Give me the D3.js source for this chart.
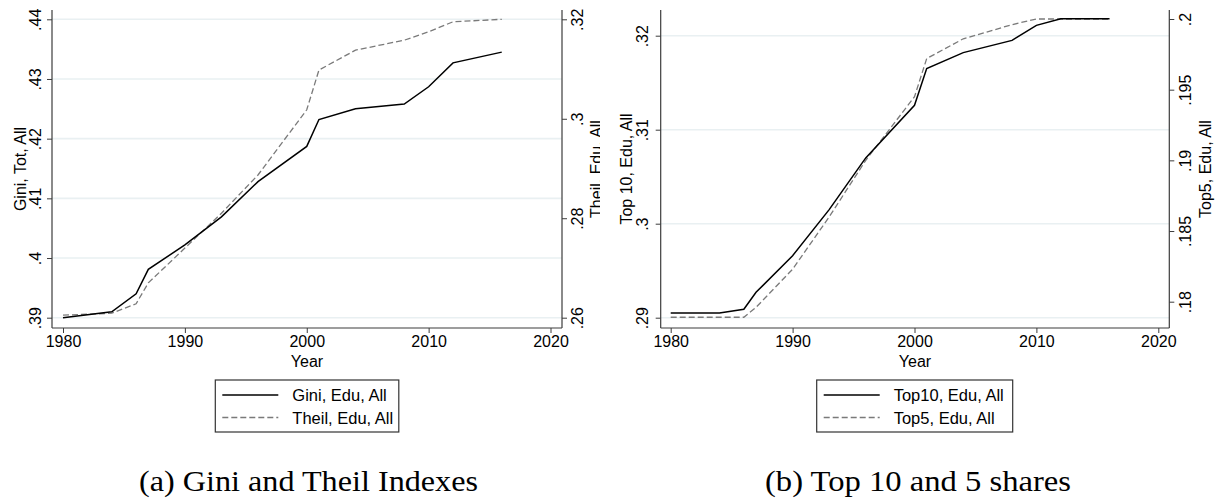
<!DOCTYPE html>
<html>
<head>
<meta charset="utf-8">
<script src="https://cdn.jsdelivr.net/npm/d3@7"></script>
<style>
  html, body { margin: 0; padding: 0; background: #fff; }
  svg { display: block; }
  text { font-family: "Liberation Sans", Arial, sans-serif; fill: #000; }
</style>
</head>
<body>
<svg id="chart" width="1216" height="499"></svg>
<script>
// ---- Data ----
const years = [1980, 1984, 1986, 1987, 1990, 1993, 1996, 2000, 2001, 2004, 2008, 2010, 2012, 2016];
const gini  = [0.3900, 0.3910, 0.3940, 0.3981, 0.4022, 0.4069, 0.4128, 0.4187, 0.4232, 0.4250, 0.4258, 0.4287, 0.4327, 0.4345];
const theil = [0.2605, 0.2609, 0.2628, 0.2670, 0.2740, 0.2810, 0.2887, 0.3018, 0.3098, 0.3138, 0.3158, 0.3175, 0.3195, 0.3200];
const top10 = [0.2905, 0.2905, 0.2909, 0.2927, 0.2966, 0.3015, 0.3070, 0.3126, 0.3165, 0.3182, 0.3195, 0.3211, 0.3218, 0.3218];
const top5  = [0.1789, 0.1789, 0.1789, 0.1796, 0.1823, 0.1860, 0.1900, 0.1945, 0.1972, 0.1986, 0.1996, 0.2000, 0.2000, 0.2000];

const xTicks = [1980, 1990, 2000, 2010, 2020];
const giniTicks  = [0.39, 0.40, 0.41, 0.42, 0.43, 0.44];
const giniLabels = [".39", ".4", ".41", ".42", ".43", ".44"];
const theilTicks  = [0.26, 0.28, 0.30, 0.32];
const theilLabels = [".26", ".28", ".3", ".32"];
const top10Ticks  = [0.29, 0.30, 0.31, 0.32];
const top10Labels = [".29", ".3", ".31", ".32"];
const top5Ticks  = [0.18, 0.185, 0.19, 0.195, 0.20];
const top5Labels = [".18", ".185", ".19", ".195", ".2"];

const panels = [
  {
    left: 52, right: 562, x0: 63, x1: 550.5,
    yL: { domain: [0.39, 0.44], range: [317.7, 19.3], ticks: giniTicks, labels: giniLabels, title: "Gini, Tot, All", lab: 16.5, tit: 32 },
    yR: { domain: [0.26, 0.32], range: [317.7, 19.3], ticks: theilTicks, labels: theilLabels, title: "Theil, Edu, All", lab: 15, tit: 34 },
    s1: gini, s2: theil,
    legend: { x: 215.3, w: 183.5, n1: "Gini, Edu, All", n2: "Theil, Edu, All" },
    caption: { text: "(a) Gini and Theil Indexes", cx: 308.5, w: 339 },
    clipRight: 600
  },
  {
    left: 660.7, right: 1169.3, x0: 670.7, x1: 1158.3,
    yL: { domain: [0.29, 0.32], range: [317.7, 35.7], ticks: top10Ticks, labels: top10Labels, title: "Top 10, Edu, All", lab: 18.5, tit: 34 },
    yR: { domain: [0.18, 0.20], range: [301.7, 19], ticks: top5Ticks, labels: top5Labels, title: "Top5, Edu, All", lab: 16.5, tit: 36.5 },
    s1: top10, s2: top5,
    legend: { x: 816.7, w: 196, n1: "Top10, Edu, All", n2: "Top5, Edu, All" },
    caption: { text: "(b) Top 10 and 5 shares", cx: 918, w: 306 },
    clipRight: 1216
  }
];

const TOP = 10, BOTTOM = 328;
const axisColor = "#3c3c3c";
const gridColor = "#e9f0f2";
const fs = 16;
const legFs = 16.5;

const svg = d3.select("#chart");
const defs = svg.append("defs");

panels.forEach((p, pi) => {
  const g = svg.append("g");
  const x = d3.scaleLinear().domain([1980, 2020]).range([p.x0, p.x1]);
  const yL = d3.scaleLinear().domain(p.yL.domain).range(p.yL.range);
  const yR = d3.scaleLinear().domain(p.yR.domain).range(p.yR.range);

  // gridlines at left ticks
  g.append("g").selectAll("line").data(p.yL.ticks).join("line")
    .attr("x1", p.left).attr("x2", p.right)
    .attr("y1", d => yL(d)).attr("y2", d => yL(d))
    .attr("stroke", gridColor).attr("stroke-width", 1.6);

  // x axis
  const xAxis = d3.axisBottom(x).tickValues(xTicks).tickFormat(d3.format("d")).tickSize(5).tickPadding(3);
  const gx = g.append("g").attr("transform", `translate(0,${BOTTOM})`).call(xAxis);
  gx.select(".domain").remove();
  gx.selectAll(".tick line").attr("stroke", axisColor).attr("stroke-width", 1);
  gx.selectAll(".tick text").attr("font-size", fs).attr("fill", "#000")
    .attr("font-family", "Liberation Sans, Arial, sans-serif");

  // left axis
  const la = d3.axisLeft(yL).tickValues(p.yL.ticks).tickFormat((d, i) => p.yL.labels[i]).tickSize(5);
  const gl = g.append("g").attr("transform", `translate(${p.left},0)`).call(la);
  gl.select(".domain").remove();
  gl.selectAll(".tick line").attr("stroke", axisColor).attr("stroke-width", 1);
  gl.selectAll(".tick text").attr("font-size", fs).attr("fill", "#000")
    .attr("font-family", "Liberation Sans, Arial, sans-serif")
    .attr("x", 0).attr("dy", null).attr("text-anchor", "middle")
    .attr("dominant-baseline", "central")
    .attr("transform", `translate(${-p.yL.lab},0) rotate(-90)`);

  // right axis
  const ra = d3.axisRight(yR).tickValues(p.yR.ticks).tickFormat((d, i) => p.yR.labels[i]).tickSize(5);
  const gr = g.append("g").attr("transform", `translate(${p.right},0)`).call(ra);
  gr.select(".domain").remove();
  gr.selectAll(".tick line").attr("stroke", axisColor).attr("stroke-width", 1);
  gr.selectAll(".tick text").attr("font-size", fs).attr("fill", "#000")
    .attr("font-family", "Liberation Sans, Arial, sans-serif")
    .attr("x", 0).attr("dy", null).attr("text-anchor", "middle")
    .attr("dominant-baseline", "central")
    .attr("transform", `translate(${p.yR.lab},0) rotate(-90)`);

  // axis lines
  g.append("line").attr("x1", p.left).attr("x2", p.left).attr("y1", TOP).attr("y2", BOTTOM)
    .attr("stroke", axisColor).attr("stroke-width", 1.2);
  g.append("line").attr("x1", p.right).attr("x2", p.right).attr("y1", TOP).attr("y2", BOTTOM)
    .attr("stroke", axisColor).attr("stroke-width", 1.2);
  g.append("line").attr("x1", p.left).attr("x2", p.right).attr("y1", BOTTOM).attr("y2", BOTTOM)
    .attr("stroke", axisColor).attr("stroke-width", 1.2);

  // axis titles
  const midY = (TOP + BOTTOM) / 2;
  g.append("text").attr("text-anchor", "middle").attr("dominant-baseline", "central")
    .attr("font-size", fs)
    .attr("transform", `translate(${p.left - p.yL.tit},${midY}) rotate(-90)`)
    .text(p.yL.title);

  const clipId = "clipR" + pi;
  defs.append("clipPath").attr("id", clipId).append("rect")
    .attr("x", 0).attr("y", 0).attr("width", p.clipRight).attr("height", 499);
  g.append("g").attr("clip-path", `url(#${clipId})`)
    .append("text").attr("text-anchor", "middle").attr("dominant-baseline", "central")
    .attr("font-size", fs)
    .attr("transform", `translate(${p.right + p.yR.tit},${midY}) rotate(-90)`)
    .text(p.yR.title);

  g.append("text").attr("text-anchor", "middle").attr("x", (p.left + p.right) / 2).attr("y", 367)
    .attr("font-size", fs).text("Year");

  // series
  const pts1 = years.map((yr, i) => [yr, p.s1[i]]);
  const pts2 = years.map((yr, i) => [yr, p.s2[i]]);
  g.append("path").datum(pts2)
    .attr("d", d3.line().x(d => x(d[0])).y(d => yR(d[1])))
    .attr("fill", "none").attr("stroke", "#7a7a7a").attr("stroke-width", 1.3)
    .attr("stroke-dasharray", "6,3");
  g.append("path").datum(pts1)
    .attr("d", d3.line().x(d => x(d[0])).y(d => yL(d[1])))
    .attr("fill", "none").attr("stroke", "#000").attr("stroke-width", 1.5);

  // legend
  const L = p.legend;
  const lg = g.append("g");
  lg.append("rect").attr("x", L.x).attr("y", 380).attr("width", L.w).attr("height", 52)
    .attr("fill", "#fff").attr("stroke", "#333").attr("stroke-width", 1.2);
  lg.append("line").attr("x1", L.x + 7).attr("x2", L.x + 63).attr("y1", 395).attr("y2", 395)
    .attr("stroke", "#000").attr("stroke-width", 1.5);
  lg.append("line").attr("x1", L.x + 7).attr("x2", L.x + 63).attr("y1", 417.5).attr("y2", 417.5)
    .attr("stroke", "#7a7a7a").attr("stroke-width", 1.3).attr("stroke-dasharray", "6,3");
  lg.append("text").attr("x", L.x + 77).attr("y", 395).attr("dominant-baseline", "central")
    .attr("font-size", legFs).text(L.n1);
  lg.append("text").attr("x", L.x + 77).attr("y", 417.5).attr("dominant-baseline", "central")
    .attr("font-size", legFs).text(L.n2);

  // caption
  g.append("text").attr("text-anchor", "middle").attr("x", p.caption.cx).attr("y", 491)
    .style("font-family", "'Liberation Serif', 'Times New Roman', serif")
    .attr("font-size", 29)
    .attr("textLength", p.caption.w).attr("lengthAdjust", "spacingAndGlyphs")
    .text(p.caption.text);
});
</script>
</body>
</html>
